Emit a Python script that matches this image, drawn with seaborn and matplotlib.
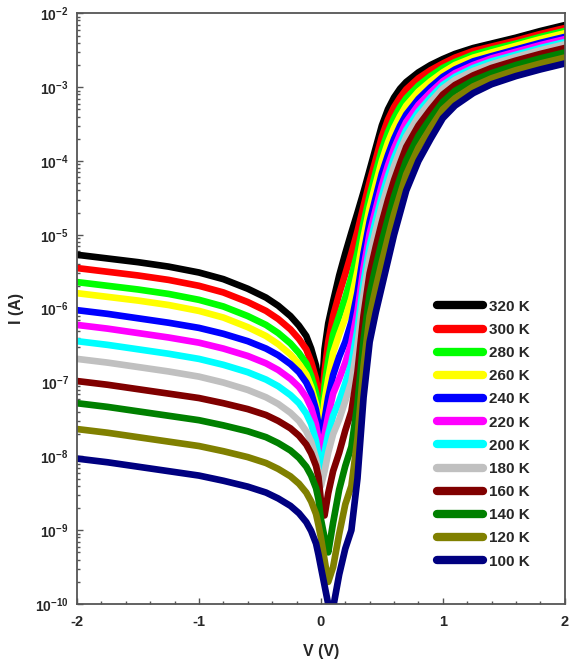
import numpy as np
import pandas as pd
import matplotlib
matplotlib.use("Agg")
import matplotlib.pyplot as plt
import seaborn as sns
from matplotlib.ticker import FixedLocator, LogLocator, MultipleLocator, NullFormatter

# ---------------- data (log10 of current in A) ----------------
voltage = [-2.0, -1.75, -1.5, -1.25, -1.0, -0.8, -0.6, -0.45, -0.35, -0.25, -0.18, -0.12, -0.08, -0.04, -0.02,
           0.0, 0.03, 0.06, 0.1, 0.15,
           0.2, 0.25, 0.3, 0.35, 0.4, 0.45, 0.5, 0.55, 0.6, 0.65, 0.7, 0.8, 0.9, 1.0, 1.1, 1.25, 1.4, 1.6, 1.8, 2.0]

temperatures = ["320 K", "300 K", "280 K", "260 K", "240 K", "220 K",
                "200 K", "180 K", "160 K", "140 K", "120 K", "100 K"]

logI_320 = [-5.27, -5.32, -5.37, -5.43, -5.51, -5.60, -5.73, -5.85, -5.96, -6.10, -6.23, -6.37, -6.54, -6.77, -6.99,
            -7.3, -6.55, -6.2, -5.9, -5.55,
            -5.25, -4.97, -4.70, -4.42, -4.12, -3.82, -3.52, -3.30, -3.14, -3.02, -2.93, -2.80, -2.70, -2.62, -2.55, -2.47, -2.41, -2.33, -2.24, -2.16]
logI_300 = [-5.45, -5.50, -5.55, -5.61, -5.69, -5.78, -5.91, -6.03, -6.14, -6.28, -6.41, -6.55, -6.72, -6.95, -7.17,
            -7.45, -6.85, -6.45, -6.1, -5.8,
            -5.53, -5.25, -4.95, -4.61, -4.28, -3.98, -3.67, -3.44, -3.27, -3.14, -3.03, -2.88, -2.77, -2.68, -2.60, -2.51, -2.45, -2.37, -2.28, -2.20]
logI_280 = [-5.64, -5.69, -5.74, -5.80, -5.88, -5.97, -6.10, -6.22, -6.33, -6.47, -6.60, -6.74, -6.91, -7.14, -7.36,
            -7.6, -7.05, -6.7, -6.35, -6.1,
            -5.85, -5.57, -5.24, -4.84, -4.47, -4.15, -3.85, -3.61, -3.42, -3.27, -3.15, -2.98, -2.85, -2.74, -2.66, -2.56, -2.49, -2.41, -2.32, -2.24]
logI_260 = [-5.79, -5.84, -5.89, -5.95, -6.03, -6.12, -6.25, -6.37, -6.48, -6.62, -6.75, -6.89, -7.06, -7.29, -7.51,
            -7.7, -7.25, -6.95, -6.6, -6.35,
            -6.13, -5.86, -5.49, -5.03, -4.63, -4.31, -4.00, -3.75, -3.55, -3.39, -3.25, -3.06, -2.92, -2.80, -2.70, -2.60, -2.53, -2.44, -2.35, -2.27]
logI_240 = [-6.02, -6.07, -6.13, -6.19, -6.26, -6.34, -6.44, -6.54, -6.63, -6.75, -6.86, -7.00, -7.14, -7.37, -7.57,
            -7.8, -7.5, -7.2, -6.9, -6.65,
            -6.45, -6.18, -5.78, -5.25, -4.82, -4.49, -4.17, -3.92, -3.70, -3.52, -3.37, -3.16, -3.00, -2.86, -2.76, -2.65, -2.58, -2.49, -2.40, -2.32]
logI_220 = [-6.22, -6.27, -6.33, -6.39, -6.46, -6.54, -6.64, -6.74, -6.83, -6.95, -7.06, -7.20, -7.34, -7.57, -7.77,
            -7.95, -7.7, -7.45, -7.15, -6.95,
            -6.73, -6.46, -6.03, -5.45, -4.98, -4.65, -4.33, -4.06, -3.83, -3.64, -3.47, -3.24, -3.07, -2.92, -2.81, -2.70, -2.61, -2.52, -2.43, -2.35]
logI_200 = [-6.44, -6.49, -6.55, -6.61, -6.68, -6.76, -6.86, -6.96, -7.05, -7.17, -7.28, -7.42, -7.56, -7.79, -7.99,
            -8.15, -7.95, -7.7, -7.45, -7.25,
            -7.01, -6.74, -6.28, -5.64, -5.15, -4.80, -4.48, -4.20, -3.96, -3.76, -3.58, -3.33, -3.14, -2.97, -2.86, -2.74, -2.65, -2.56, -2.47, -2.39]
logI_180 = [-6.68, -6.73, -6.79, -6.85, -6.92, -7.00, -7.10, -7.20, -7.29, -7.41, -7.52, -7.66, -7.80, -8.03, -8.23,
            -8.4, -8.2, -7.95, -7.7, -7.5,
            -7.25, -6.99, -6.50, -5.81, -5.29, -4.94, -4.61, -4.33, -4.07, -3.86, -3.67, -3.40, -3.20, -3.02, -2.90, -2.78, -2.69, -2.59, -2.50, -2.42]
logI_160 = [-6.98, -7.03, -7.09, -7.15, -7.21, -7.28, -7.36, -7.44, -7.52, -7.62, -7.72, -7.84, -7.96, -8.13, -8.28,
            -8.6, -8.8, -8.5, -8.2, -7.95,
            -7.65, -7.39, -6.86, -6.09, -5.52, -5.16, -4.83, -4.53, -4.26, -4.03, -3.81, -3.52, -3.30, -3.10, -2.97, -2.84, -2.74, -2.64, -2.55, -2.47]
logI_140 = [-7.28, -7.33, -7.39, -7.45, -7.51, -7.58, -7.66, -7.74, -7.82, -7.92, -8.02, -8.14, -8.26, -8.43, -8.58,
            -8.85, -9.1, -9.3, -8.9, -8.45,
            -8.13, -7.87, -7.29, -6.42, -5.80, -5.43, -5.09, -4.78, -4.48, -4.23, -3.99, -3.66, -3.42, -3.20, -3.05, -2.91, -2.81, -2.70, -2.61, -2.53]
logI_120 = [-7.63, -7.68, -7.74, -7.80, -7.86, -7.93, -8.01, -8.09, -8.17, -8.27, -8.37, -8.49, -8.61, -8.78, -8.93,
            -9.1, -9.4, -9.7, -9.5, -9.05,
            -8.65, -8.40, -7.76, -6.78, -6.10, -5.72, -5.37, -5.04, -4.72, -4.45, -4.18, -3.82, -3.55, -3.30, -3.15, -2.99, -2.88, -2.77, -2.68, -2.60]
logI_100 = [-8.03, -8.08, -8.14, -8.20, -8.26, -8.33, -8.41, -8.49, -8.57, -8.67, -8.77, -8.89, -9.01, -9.18, -9.33,
            -9.5, -9.75, -10.0, -10.05, -9.6,
            -9.25, -9.00, -8.30, -7.20, -6.45, -6.05, -5.70, -5.35, -5.00, -4.70, -4.40, -4.00, -3.70, -3.42, -3.25, -3.08, -2.96, -2.85, -2.76, -2.68]

colors = ["#000000", "#ff0000", "#00ff00", "#ffff00", "#0000ff", "#ff00ff",
          "#00ffff", "#c0c0c0", "#800000", "#008000", "#808000", "#000080"]

x_ticks = [-2, -1, 0, 1, 2]
x_tick_labels = ["-2", "-1", "0", "1", "2"]
y_exponents = list(range(-10, -1))

series = [logI_320, logI_300, logI_280, logI_260, logI_240, logI_220,
          logI_200, logI_180, logI_160, logI_140, logI_120, logI_100]

frames = []
for t, s in zip(temperatures, series):
    frames.append(pd.DataFrame({"V": voltage, "I": np.power(10.0, s), "T": t}))
df = pd.concat(frames, ignore_index=True)

# ---------------- plotting ----------------
sns.set_style("ticks")
plt.rcParams["font.family"] = ["Liberation Sans", "DejaVu Sans"]
plt.rcParams["mathtext.fontset"] = "custom"
plt.rcParams["mathtext.bf"] = "Liberation Sans:bold"
plt.rcParams["mathtext.rm"] = "Liberation Sans:bold"
plt.rcParams["mathtext.default"] = "bf"

fig = plt.figure(figsize=(5.71, 6.66), dpi=100)
ax = fig.add_axes([0.135, 0.093, 0.854, 0.887])

sns.lineplot(data=df, x="V", y="I", hue="T", hue_order=temperatures,
             palette=colors, linewidth=4.8, estimator=None, sort=False, ax=ax)
for ln in ax.get_lines():
    ln.set_solid_joinstyle("round")

ax.set_yscale("log")
ax.set_xlim(-2, 2)
ax.set_ylim(1e-10, 1e-2)

ax.xaxis.set_major_locator(FixedLocator(x_ticks))
ax.set_xticklabels(x_tick_labels, fontsize=10.5, fontweight="bold")
ax.xaxis.set_minor_locator(MultipleLocator(0.2))

ax.yaxis.set_major_locator(FixedLocator([10.0 ** e for e in y_exponents]))
ax.set_yticklabels([r"$10^{%d}$" % e for e in y_exponents], fontsize=10)
ax.yaxis.set_minor_locator(LogLocator(base=10, subs=np.arange(2, 10), numticks=20))
ax.yaxis.set_minor_formatter(NullFormatter())

ax.tick_params(which="both", direction="in", top=False, right=False,
               color="#555555", width=1.0)
ax.tick_params(which="major", length=4, pad=6)
ax.tick_params(which="minor", length=2.5)
ax.tick_params(axis="x", which="major", pad=8)

for sp in ax.spines.values():
    sp.set_color("#555555")
    sp.set_linewidth(1.3)

ax.set_xlabel("V (V)", fontsize=11.5, fontweight="bold", labelpad=11)
ax.set_ylabel("I (A)", fontsize=11.5, fontweight="bold", labelpad=8)

handles, labels = ax.get_legend_handles_labels()
leg = ax.legend(handles, labels, loc="upper left", bbox_to_anchor=(0.738, 0.515),
                frameon=False, prop={"size": 11, "weight": "bold"},
                handlelength=3.0, handletextpad=0.4, labelspacing=0.6,
                borderpad=0, borderaxespad=0)
for line in leg.get_lines():
    line.set_linewidth(6)
    line.set_solid_capstyle("round")

fig.savefig("out.png", dpi=100)
